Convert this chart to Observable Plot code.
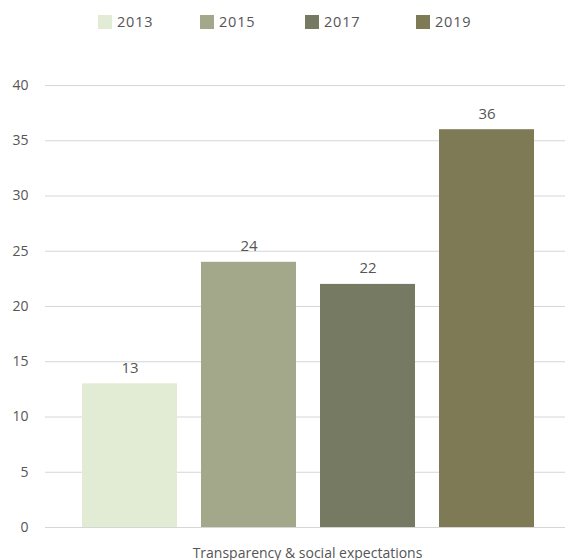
<!DOCTYPE html>
<html>
<head>
<meta charset="utf-8">
<script src="https://cdn.jsdelivr.net/npm/d3@7"></script>
<script src="https://cdn.jsdelivr.net/npm/@observablehq/plot@0.6"></script>
<style>
  body { margin: 0; background: #fff; font-family: "Open Sans", sans-serif; }
  #legend { position: relative; height: 40px; width: 565px; }
  .item { position: absolute; top: 12px; display: flex; align-items: center; font-size: 14.5px; color: #555; letter-spacing: 0.8px; }
  .sw { width: 14px; height: 14px; margin-right: 5px; }
</style>
</head>
<body>
<div id="legend"></div>
<div id="chart"></div>
<script>
const years = ["2013", "2015", "2017", "2019"];
const values = [13, 24, 22, 36];
const colors = ["#e2ebd3", "#a4a88a", "#767a63", "#7f7a56"];
const category = "Transparency & social expectations";
const yTicks = [0, 5, 10, 15, 20, 25, 30, 35, 40];

const data = years.map((y, i) => ({year: y, value: values[i]}));

const legendX = [98, 200, 305, 416];
const legend = document.getElementById("legend");
years.forEach((y, i) => {
  const d = document.createElement("div");
  d.className = "item";
  d.style.left = legendX[i] + "px";
  d.innerHTML = `<div class="sw" style="background:${colors[i]}"></div><span>${y}</span>`;
  legend.appendChild(d);
});

const chart = Plot.plot({
  width: 565,
  height: 520,
  marginLeft: 45,
  marginRight: 0,
  marginTop: 45,
  marginBottom: 33,
  style: {fontFamily: "Open Sans, sans-serif", fontSize: "14px", color: "#555"},
  x: {domain: years, range: [45, 572], paddingInner: 0.2, paddingOuter: 0.3, axis: null},
  y: {domain: [0, 40], ticks: yTicks, label: null},
  color: {domain: years, range: colors},
  marks: [
    Plot.gridY(yTicks, {stroke: "#d6d6d6", strokeOpacity: 1, strokeWidth: 1}),
    Plot.axisY(yTicks, {tickSize: 0, tickPadding: 17, fontSize: 14, fill: "#555", label: null}),
    Plot.barY(data, {x: "year", y: "value", fill: "year"}),
    Plot.text(data, {x: "year", y: "value", text: d => String(d.value), dy: -16, fontSize: 15, fill: "#555"}),
    Plot.text([category], {frameAnchor: "bottom", dx: 2, dy: 30, text: d => d, fontSize: 14, fill: "#555", style: "letter-spacing:0.6px"})
  ]
});
document.getElementById("chart").appendChild(chart);
</script>
</body>
</html>
